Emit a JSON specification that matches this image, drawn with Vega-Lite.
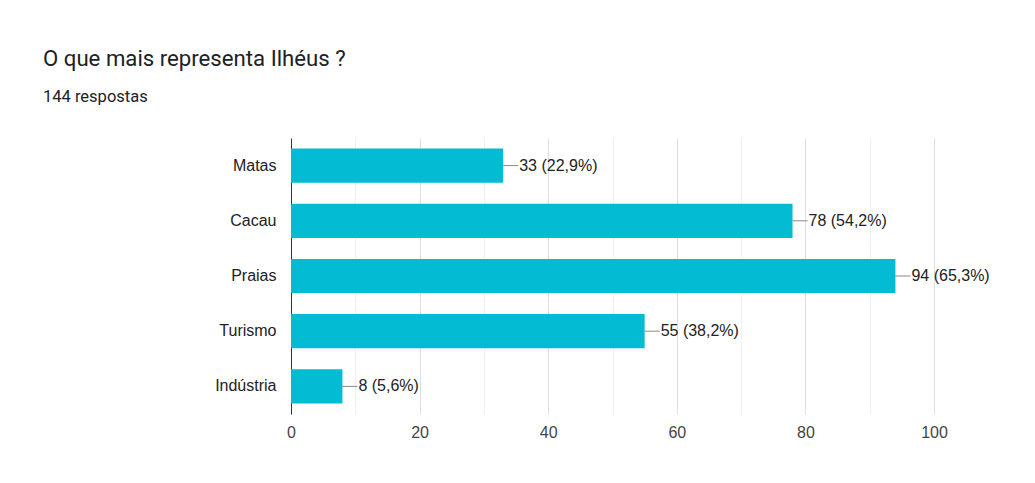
{
  "$schema": "https://vega.github.io/schema/vega-lite/v6.json",
  "autosize": "none",
  "width": 643,
  "height": 276,
  "padding": {"left": 291, "top": 138, "right": 101, "bottom": 69},
  "background": "white",
  "title": {
    "text": "O que mais representa Ilhéus ?",
    "subtitle": "144 respostas",
    "anchor": "start",
    "frame": "group",
    "dx": -248,
    "offset": 33,
    "font": "Roboto",
    "fontSize": 22.2,
    "fontWeight": "normal",
    "color": "#202124",
    "subtitleFont": "Roboto",
    "subtitleFontSize": 16.5,
    "subtitleColor": "#202124",
    "subtitlePadding": 18
  },
  "data": {
    "values": [
      {"opcao": "Matas", "n": 33, "label": "33 (22,9%)"},
      {"opcao": "Cacau", "n": 78, "label": "78 (54,2%)"},
      {"opcao": "Praias", "n": 94, "label": "94 (65,3%)"},
      {"opcao": "Turismo", "n": 55, "label": "55 (38,2%)"},
      {"opcao": "Indústria", "n": 8, "label": "8 (5,6%)"}
    ]
  },
  "config": {
    "view": {"stroke": null},
    "font": "Liberation Sans"
  },
  "encoding": {
    "y": {
      "field": "opcao",
      "type": "nominal",
      "sort": null,
      "scale": {"paddingInner": 0.38, "paddingOuter": 0.19},
      "axis": {
        "title": null,
        "ticks": false,
        "domain": true,
        "domainColor": "#333333",
        "domainWidth": 1,
        "labelFont": "Liberation Sans",
        "labelFontSize": 16,
        "labelColor": "#222222",
        "labelPadding": 15,
        "grid": false
      }
    }
  },
  "layer": [
    {
      "mark": {"type": "bar", "color": "#03bcd4"},
      "encoding": {
        "x": {
          "field": "n",
          "type": "quantitative",
          "scale": {"domain": [0, 100], "nice": false},
          "axis": {
            "title": null,
            "values": [0, 10, 20, 30, 40, 50, 60, 70, 80, 90, 100],
            "labelExpr": "datum.value % 20 === 0 ? datum.label : ''",
            "labelFlush": false,
            "ticks": false,
            "domain": false,
            "grid": true,
            "gridColor": {"condition": {"test": "datum.value % 20 === 0", "value": "#dedede"}, "value": "#f0f0f0"},
            "labelFont": "Liberation Sans",
            "labelFontSize": 16,
            "labelColor": "#444444",
            "labelPadding": 10
          }
        }
      }
    },
    {
      "mark": {"type": "rule", "color": "#888888", "strokeWidth": 1, "x2Offset": 15},
      "encoding": {
        "x": {"field": "n", "type": "quantitative"},
        "x2": {"field": "n"}
      }
    },
    {
      "mark": {"type": "text", "align": "left", "baseline": "middle", "dx": 16, "fontSize": 16, "color": "#222222", "font": "Liberation Sans"},
      "encoding": {
        "x": {"field": "n", "type": "quantitative"},
        "text": {"field": "label"}
      }
    }
  ]
}
